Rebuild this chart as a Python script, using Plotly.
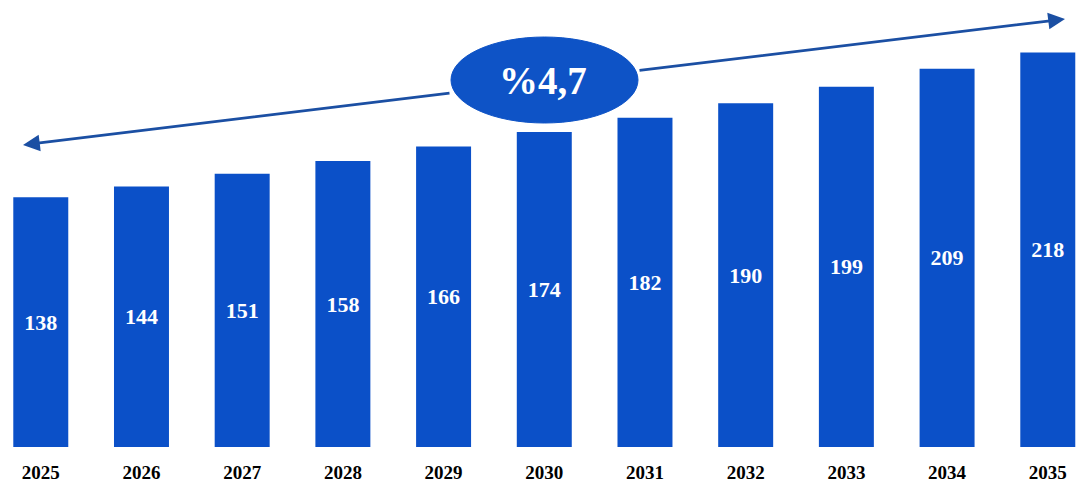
import plotly.graph_objects as go

years = [2025, 2026, 2027, 2028, 2029, 2030, 2031, 2032, 2033, 2034, 2035]
values = [138, 144, 151, 158, 166, 174, 182, 190, 199, 209, 218]
year_labels = [str(y) for y in years]
growth_label = "%4,7"

W, H = 1079, 489
MB = 42
PH = H - MB

def px_x(px):
    return px / W

def px_y(py):
    return 1 - py / PH

BAR = "#0b50c8"
LINE = "#1b4fa3"
FONT = "Liberation Serif"

fig = go.Figure()
fig.add_trace(go.Bar(
    x=years, y=values, width=0.546,
    marker=dict(color=BAR, line=dict(width=0)),
    text=[str(v) for v in values],
    textposition="inside", insidetextanchor="middle",
    textfont=dict(family=FONT, size=22, color="white", weight="bold"),
    textangle=0,
    hoverinfo="skip",
))

# arrow segments
tipL = (23, 145)
tipR = (1065, 19)
edgeL = (451, 93)
edgeR = (638, 70.5)
annos = []
for tip, edge in [(tipL, edgeL), (tipR, edgeR)]:
    annos.append(dict(
        x=px_x(tip[0]), y=px_y(tip[1]), xref="paper", yref="paper",
        ax=edge[0] - tip[0], ay=edge[1] - tip[1], axref="pixel", ayref="pixel",
        text="", showarrow=True, arrowhead=2, arrowsize=1.2, arrowwidth=2.8,
        arrowcolor=LINE, standoff=0,
    ))
annos.append(dict(
    x=px_x(543), y=px_y(80), xref="paper", yref="paper",
    text=growth_label, showarrow=False,
    font=dict(family=FONT, size=39, color="white", weight="bold"),
    xanchor="center", yanchor="middle",
))

fig.update_layout(
    width=W, height=H,
    margin=dict(l=0, r=0, t=0, b=MB),
    paper_bgcolor="white", plot_bgcolor="white",
    showlegend=False,
    xaxis=dict(
        range=[2024.595, 2035.31],
        tickvals=years, ticktext=year_labels,
        tickfont=dict(family=FONT, size=19, color="black", weight="bold"),
        showgrid=False, zeroline=False, showline=False,
        ticks="outside", ticklen=8, tickcolor="white",
    ),
    yaxis=dict(range=[0, 247], visible=False, showgrid=False),
    shapes=[dict(
        type="circle", xref="paper", yref="paper",
        x0=px_x(451), x1=px_x(638), y0=px_y(123), y1=px_y(37),
        fillcolor="#0e53c6", line=dict(color="#0e53c6", width=1),
        layer="above",
    )],
    annotations=annos,
)

fig.write_html("out.html", config={"displayModeBar": False},
               post_script="document.body.style.margin='0';")
